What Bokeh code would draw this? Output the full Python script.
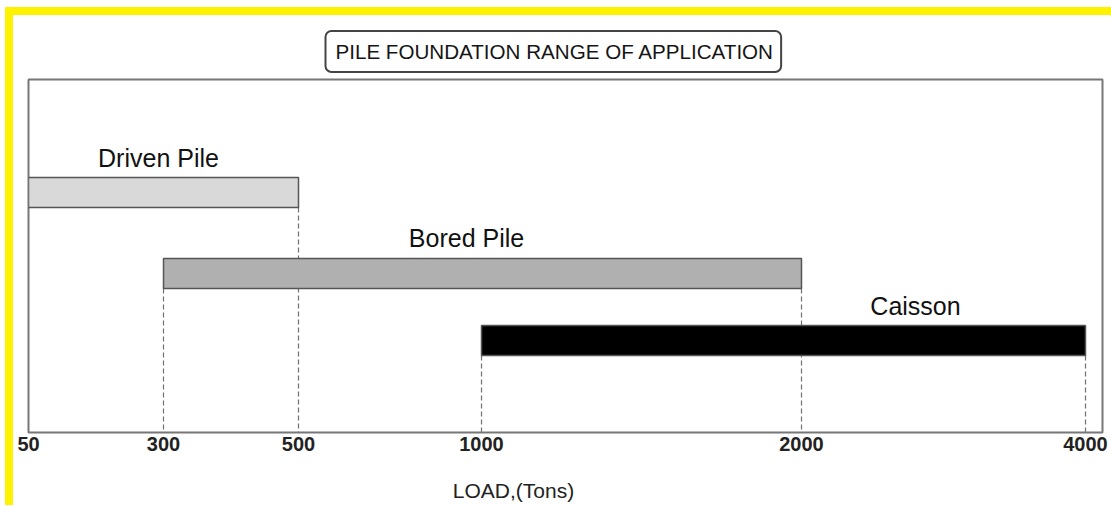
import numpy as np
from bokeh.plotting import figure
from bokeh.models import Range1d, FixedTicker, ColumnDataSource, Title, LinearAxis
from bokeh.embed import file_html
from bokeh.resources import INLINE
from bokeh.core.properties import value

# ---------------- data ----------------
piles = ["Driven Pile", "Bored Pile", "Caisson"]
load_min = [50, 300, 1000]
load_max = [500, 2000, 4000]
tick_loads = [50, 300, 500, 1000, 2000, 4000]
tick_labels = ["50", "300", "500", "1000", "2000", "4000"]
title_text = "PILE FOUNDATION RANGE OF APPLICATION"
x_title = "LOAD,(Tons)"

# ---------------- layout / style ----------------
tick_slot = [0, 135, 270, 453, 773, 1057]   # non-uniform axis slot of each tick
row_bottom = [225, 144, 77]
bar_h = 30
label_x = [130, 438, 887]
label_y = [275, 195, 127]
x_title_pos = 485                            # axis title sits left of centre
fills = ["#d9d9d9", "#b0b0b0", "#000000"]
FONT = "Liberation Sans"


def to_axis(v):
    return np.interp(np.asarray(v, dtype=float), tick_loads, tick_slot)


W, H = 1106, 498
FRAME_W, FRAME_H = 1074, 353
p = figure(width=W, height=H, output_backend="svg", toolbar_location=None,
           x_range=Range1d(0, FRAME_W), y_range=Range1d(0, FRAME_H),
           min_border_left=15, min_border_right=W - 15 - FRAME_W, min_border_top=64,
           min_border_bottom=H - 64 - FRAME_H)
p.styles = {"border-top": "8px solid #fff200", "border-left": "8px solid #fff200",
            "margin-top": "7px", "margin-left": "5px"}
p.background_fill_color = "white"
p.border_fill_color = "white"
p.outline_line_color = "#777777"
p.outline_line_width = 2
p.xgrid.visible = False
p.ygrid.visible = False
p.yaxis.visible = False

# title in a rounded box
p.title = Title(text=title_text, align="left", offset=297, standoff=15,
                text_font=FONT, text_font_size="20.6px", text_font_style="normal",
                text_color="#151515", border_line_color="#444444", border_line_width=2,
                border_radius=6, background_fill_color="white",
                padding=dict(left=10, right=7, top=9, bottom=9))

# dashed guide lines from each bar end down to the axis
xs, y0s = [], []
for lo, hi, rb in zip(load_min, load_max, row_bottom):
    for v in (lo, hi):
        if v > tick_loads[0]:
            xs.append(float(to_axis(v)))
            y0s.append(rb)
p.segment(x0=xs, x1=xs, y0=y0s, y1=[0] * len(xs), line_color="#707070",
          line_width=1.2, line_dash="5 3")

# bars
src = ColumnDataSource(dict(
    left=to_axis(load_min), right=to_axis(load_max),
    bottom=row_bottom, top=[b + bar_h for b in row_bottom],
    fill=fills, name=piles, lx=label_x, ly=label_y))
p.quad(left="left", right="right", bottom="bottom", top="top", source=src,
       fill_color="fill", line_color="#555555", line_width=1.5)
p.text(x="lx", y="ly", text="name", source=src, text_align="center",
       text_baseline="middle", text_font=value(FONT), text_font_size="25px",
       text_color="#111111")


def style_axis(ax):
    ax.axis_line_color = None
    ax.major_tick_line_color = None
    ax.minor_tick_line_color = None
    ax.major_tick_out = 0
    ax.major_tick_in = 0
    ax.major_label_text_font = FONT


# x axis
ticks = [int(t) for t in tick_slot]
p.xaxis.ticker = FixedTicker(ticks=ticks)
p.xaxis.major_label_overrides = {t: lab for t, lab in zip(ticks, tick_labels)}
style_axis(p.xaxis[0])
p.xaxis.major_label_standoff = 4
p.xaxis.major_label_text_font_size = "20px"
p.xaxis.major_label_text_font_style = "bold"
p.xaxis.major_label_text_color = "#222222"

# axis title, drawn as a second axis row below the tick labels (left of centre)
title_axis = LinearAxis(ticker=FixedTicker(ticks=[x_title_pos]),
                        major_label_overrides={x_title_pos: x_title})
style_axis(title_axis)
title_axis.major_label_standoff = 25
title_axis.major_label_text_font_size = "21px"
title_axis.major_label_text_color = "#222222"
p.add_layout(title_axis, "below")

open("out.html", "w").write(file_html(p, INLINE))
